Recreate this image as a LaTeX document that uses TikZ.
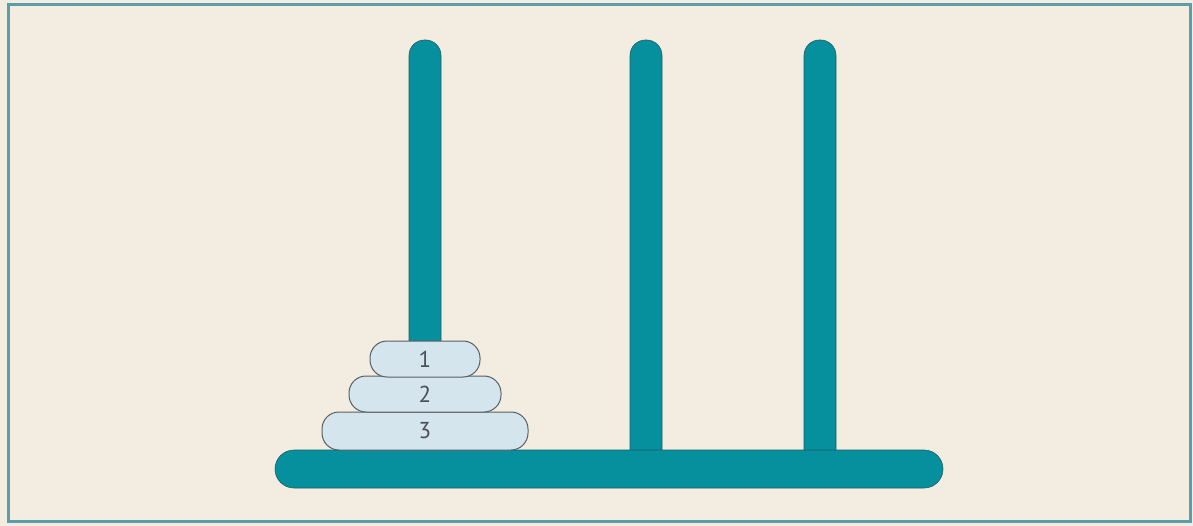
\documentclass[tikz,border=0pt]{standalone}
\usepackage{fontspec}
\setmainfont{PT Sans}
\definecolor{bg}{HTML}{F2EDE0}
\definecolor{frame}{HTML}{5A9EA8}
\definecolor{peg}{HTML}{068F9D}
\definecolor{pegline}{HTML}{1D5E66}
\definecolor{disk}{HTML}{D4E5EE}
\definecolor{diskline}{HTML}{5A5F63}
\definecolor{num}{HTML}{4A4F55}
\begin{document}
\begin{tikzpicture}[x=1pt,y=-1pt,
  pegbar/.style={fill=peg,draw=pegline,line width=0.6pt},
  diskbox/.style={draw=diskline,fill=disk,line width=1pt,rounded corners=17pt,
    inner sep=0pt,font=\fontsize{23}{23}\selectfont,text=num}]
\useasboundingbox (0,0) rectangle (1193,526);
\fill[bg] (0,0) rectangle (1193,526);
\draw[frame,line width=3pt] (8,5) rectangle (1190,521);
% pegs
\draw[pegbar,rounded corners=15.5pt] (409,452) -- (409,40) -- (441,40) -- (441,452);
\draw[pegbar,rounded corners=15.5pt] (630,452) -- (630,40) -- (662,40) -- (662,452);
\draw[pegbar,rounded corners=15.5pt] (804,452) -- (804,40) -- (836,40) -- (836,452);
\coordinate (p1) at (425,40);
\coordinate (p2) at (646,40);
\coordinate (p3) at (820,40);
% base
\node[pegbar,rounded corners=19pt,minimum width=668pt,minimum height=38pt,inner sep=0pt] (base) at (609,469) {};
% disks
\node[diskbox,minimum width=206pt,minimum height=38pt] (d3) at (425,431) {3};
\node[diskbox,minimum width=152pt,minimum height=36pt] (d2) at (425,394) {2};
\node[diskbox,minimum width=110pt,minimum height=36pt] (d1) at (425,359) {1};
\end{tikzpicture}
\end{document}
